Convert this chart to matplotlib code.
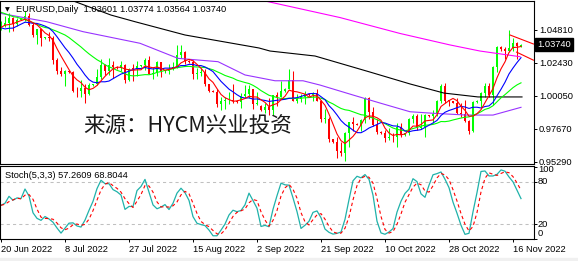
import numpy as np
import pandas as pd
import matplotlib
matplotlib.use("Agg")
import matplotlib.pyplot as plt
from matplotlib import transforms
from matplotlib.patches import Rectangle

# daily bars incl. short Sunday sessions, 20 Jun 2022 .. 18 Nov 2022
opens = [1.0495, 1.0512, 1.0534, 1.0566, 1.0522, 1.0554, 1.0562, 1.0583, 1.0518, 1.0441,
         1.0484, 1.0425, 1.0428, 1.0425, 1.0265, 1.0183, 1.0161, 1.0184, 1.0175, 1.0040,
         1.0036, 1.0061, 1.0019, 1.0085, 1.0088, 1.0141, 1.0230, 1.0180, 1.0229, 1.0212,
         1.0205, 1.0224, 1.0120, 1.0200, 1.0196, 1.0220, 1.0225, 1.0260, 1.0163, 1.0167,
         1.0248, 1.0181, 1.0185, 1.0196, 1.0212, 1.0298, 1.0320, 1.0258, 1.0250, 1.0160,
         1.0170, 1.0178, 1.0088, 1.0038, 1.0033, 0.9944, 0.9967, 0.9971, 0.9974, 0.9966,
         0.9960, 1.0005, 1.0018, 1.0055, 0.9944, 0.9932, 0.9905, 0.9925, 0.9903, 1.0009,
         0.9998, 1.0041, 1.0055, 1.0121, 0.9969, 0.9979, 0.9999, 1.0015, 1.0010, 1.0026,
         0.9970, 0.9835, 0.9838, 0.9690, 0.9670, 0.9608, 0.9594, 0.9735, 0.9815, 0.9801,
         0.9795, 0.9827, 0.9985, 0.9884, 0.9792, 0.9740, 0.9735, 0.9702, 0.9706, 0.9703,
         0.9780, 0.9720, 0.9732, 0.9838, 0.9859, 0.9774, 0.9780, 0.9862, 0.9858, 0.9875,
         0.9964, 1.0077, 0.9966, 0.9965, 0.9955, 0.9881, 0.9876, 0.9819, 0.9751, 0.9960,
         0.9968, 1.0021, 1.0072, 1.0012, 1.0210, 1.0356, 1.0345, 1.0326, 1.0353, 1.0389,
         1.03601]
highs = [1.0545, 1.0582, 1.0606, 1.0577, 1.0570, 1.0568, 1.0614, 1.0606, 1.0532, 1.0488,
         1.0486, 1.0432, 1.0463, 1.0437, 1.0277, 1.0215, 1.0189, 1.0190, 1.0186, 1.0068,
         1.0122, 1.0089, 1.0099, 1.0092, 1.0200, 1.0269, 1.0232, 1.0278, 1.0257, 1.0218,
         1.0258, 1.0234, 1.0204, 1.0235, 1.0254, 1.0228, 1.0274, 1.0294, 1.0210, 1.0254,
         1.0250, 1.0188, 1.0237, 1.0248, 1.0368, 1.0368, 1.0330, 1.0262, 1.0265, 1.0202,
         1.0202, 1.0200, 1.0090, 1.0045, 1.0050, 0.9999, 0.9998, 1.0033, 1.0090, 0.9972,
         1.0027, 1.0080, 1.0079, 1.0055, 1.0034, 0.9940, 0.9950, 0.9990, 1.0012, 1.0030,
         1.0113, 1.0060, 1.0198, 1.0187, 1.0020, 1.0017, 1.0037, 1.0020, 1.0030, 1.0051,
         0.9976, 0.9907, 0.9852, 0.9695, 0.9709, 0.9671, 0.9745, 0.9817, 0.9854, 0.9810,
         0.9840, 0.9999, 0.9998, 0.9921, 0.9833, 0.9748, 0.9760, 0.9772, 0.9733, 0.9807,
         0.9809, 0.9738, 0.9845, 0.9875, 0.9873, 0.9875, 0.9873, 0.9868, 0.9900, 0.9977,
         1.0093, 1.0094, 0.9977, 0.9968, 0.9985, 0.9954, 0.9976, 0.9830, 0.9965, 0.9975,
         1.0033, 1.0097, 1.0094, 1.0221, 1.0365, 1.0362, 1.0360, 1.0481, 1.0421, 1.0393,
         1.03774]
lows = [1.0483, 1.0500, 1.0469, 1.0470, 1.0510, 1.0550, 1.0548, 1.0511, 1.0433, 1.0382,
        1.0366, 1.0418, 1.0403, 1.0235, 1.0162, 1.0144, 1.0072, 1.0170, 1.0035, 0.9999,
        0.9998, 0.9952, 1.0011, 1.0078, 1.0081, 1.0125, 1.0154, 1.0153, 1.0130, 1.0200,
        1.0183, 1.0096, 1.0110, 1.0113, 1.0146, 1.0212, 1.0190, 1.0160, 1.0123, 1.0147,
        1.0141, 1.0172, 1.0160, 1.0188, 1.0202, 1.0275, 1.0232, 1.0245, 1.0126, 1.0123,
        1.0150, 1.0073, 1.0033, 1.0030, 0.9926, 0.9900, 0.9910, 0.9948, 0.9950, 0.9955,
        0.9914, 0.9990, 0.9986, 0.9910, 0.9939, 0.9895, 0.9877, 0.9865, 0.9864, 0.9930,
        0.9993, 1.0035, 1.0050, 0.9966, 0.9955, 0.9956, 0.9945, 1.0005, 0.9966, 0.9965,
        0.9813, 0.9807, 0.9668, 0.9660, 0.9553, 0.9572, 0.9535, 0.9636, 0.9749, 0.9790,
        0.9750, 0.9806, 0.9836, 0.9787, 0.9730, 0.9725, 0.9670, 0.9686, 0.9667, 0.9632,
        0.9707, 0.9715, 0.9720, 0.9806, 0.9756, 0.9763, 0.9705, 0.9850, 0.9807, 0.9856,
        0.9955, 0.9955, 0.9934, 0.9950, 0.9872, 0.9853, 0.9814, 0.9730, 0.9746, 0.9950,
        0.9925, 0.9996, 0.9993, 0.9935, 1.0175, 1.0330, 1.0271, 1.0318, 1.0330, 1.0272,
        1.03564]
closes = [1.0512, 1.0534, 1.0566, 1.0522, 1.0554, 1.0562, 1.0583, 1.0518, 1.0441, 1.0484,
          1.0425, 1.0428, 1.0425, 1.0265, 1.0183, 1.0161, 1.0184, 1.0175, 1.0040, 1.0036,
          1.0061, 1.0019, 1.0085, 1.0088, 1.0141, 1.0230, 1.0180, 1.0229, 1.0212, 1.0205,
          1.0224, 1.0120, 1.0200, 1.0196, 1.0220, 1.0225, 1.0260, 1.0163, 1.0167, 1.0248,
          1.0181, 1.0185, 1.0196, 1.0212, 1.0298, 1.0320, 1.0258, 1.0250, 1.0160, 1.0170,
          1.0178, 1.0088, 1.0038, 1.0033, 0.9944, 0.9967, 0.9971, 0.9974, 0.9966, 0.9960,
          1.0005, 1.0018, 1.0055, 0.9944, 0.9955, 0.9905, 0.9925, 0.9903, 1.0009, 0.9998,
          1.0041, 1.0055, 1.0121, 0.9969, 0.9979, 0.9999, 1.0015, 1.0010, 1.0026, 0.9970,
          0.9835, 0.9838, 0.9690, 0.9670, 0.9608, 0.9594, 0.9735, 0.9815, 0.9801, 0.9795,
          0.9827, 0.9985, 0.9884, 0.9792, 0.9740, 0.9735, 0.9702, 0.9706, 0.9703, 0.9780,
          0.9720, 0.9732, 0.9838, 0.9859, 0.9774, 0.9780, 0.9862, 0.9858, 0.9875, 0.9964,
          1.0077, 0.9966, 0.9965, 0.9955, 0.9881, 0.9876, 0.9819, 0.9751, 0.9960, 0.9968,
          1.0021, 1.0072, 1.0012, 1.0210, 1.0356, 1.0345, 1.0326, 1.0353, 1.0389, 1.0362,
          1.03740]
# closes of the bars before the visible window (for the short averages)
lead_closes = [1.0735, 1.0780, 1.0734, 1.0648, 1.0750, 1.0719, 1.0722, 1.0694, 1.0706, 1.0716,
               1.0617, 1.0518, 1.0510, 1.0410, 1.0415, 1.0447, 1.0546, 1.0495, 1.0490]

# long averages (bar index, price)
ma50_x = [-0.25, 11.4, 20.5, 34.75, 44.25, 54.25, 61, 68.5, 75.5, 79.75, 88, 94.75, 102.25, 108, 116.5, 123, 130]
ma50_y = [1.0601, 1.0540, 1.0468, 1.0384, 1.0275, 1.0251, 1.0155, 1.0113, 1.0113, 1.0082, 1.0010, 0.9952,
          0.9889, 0.9878, 0.9865, 0.9865, 0.9921]
ma100_x = [14.75, 18.25, 27.5, 33.5, 46, 64.5, 67.25, 78.5, 92.25, 102.25, 110.75, 119.25, 130.25]
ma100_y = [1.0726, 1.0688, 1.0588, 1.0540, 1.0444, 1.0350, 1.0328, 1.0292, 1.0176, 1.0090, 1.0024, 0.9996, 0.9996]
ma200_x = [63.5, 66.75, 84.75, 99.75, 112.25, 119.75, 129.75]
ma200_y = [1.0708, 1.0685, 1.0570, 1.0455, 1.0372, 1.0328, 1.0287]

# drawn trend lines at the right
trend_up_x = [127.25, 133.1]
trend_up_y = [1.0444, 1.0379]
trend_lo_x = [128.9, 133.1]
trend_lo_y = [1.0320, 1.0262]

date_ticks = [0, 16, 32, 48, 64, 80, 96, 112, 128]
date_labels = ['20 Jun 2022', '8 Jul 2022', '27 Jul 2022', '15 Aug 2022', '2 Sep 2022',
               '21 Sep 2022', '10 Oct 2022', '28 Oct 2022', '16 Nov 2022']
price_ticks = [0.95290, 0.97670, 1.00050, 1.02430, 1.04810]
stoch_levels = [0, 20, 80, 100]
stoch_label_shift = [5.5, 0, 0, -2.5]   # px, MT4 keeps 0 and 100 inside the panel
last_price = 1.03740

plt.rcParams['font.family'] = ['Liberation Sans', 'DejaVu Sans']
plt.rcParams['font.size'] = 6.7

df = pd.DataFrame({'open': opens, 'high': highs, 'low': lows, 'close': closes})
x = np.arange(len(df))

all_close = pd.Series(lead_closes + closes)
skip = len(lead_closes)
ma5 = all_close.rolling(5).mean().iloc[skip:].values
ma10 = all_close.rolling(10).mean().iloc[skip:].values
ma20 = all_close.rolling(20).mean().iloc[skip:].values

# Stochastic(5,3,3)
ll = df['low'].rolling(5, min_periods=1).min()
hh = df['high'].rolling(5, min_periods=1).max()
k = 100 * (df['close'] - ll).rolling(3, min_periods=1).sum() / (hh - ll).rolling(3, min_periods=1).sum()
d = k.rolling(3, min_periods=1).mean()

W, H = 578, 261
fig = plt.figure(figsize=(W / 100, H / 100), dpi=100)
fig.patch.set_facecolor('white')

ax1 = fig.add_axes([0, (H - 163.5) / H, 533.5 / W, 162.5 / H])
ax2 = fig.add_axes([0, (H - 239) / H, 533.5 / W, 73 / H])

# candles
up = df['close'] >= df['open']
cols = np.where(up, '#00ff00', '#ff0000')
ax1.vlines(x, df['low'], df['high'], colors=cols, linewidth=0.75)
body_lo = df[['open', 'close']].min(axis=1)
body_h = (df['close'] - df['open']).abs().clip(lower=0.0006)
ax1.bar(x, body_h, bottom=body_lo, width=0.72, color=cols, linewidth=0)

lw = 0.8
ax1.plot(ma200_x, ma200_y, color='#ff00ff', linewidth=lw)
ax1.plot(ma100_x, ma100_y, color='black', linewidth=lw)
ax1.plot(ma50_x, ma50_y, color='#9933ff', linewidth=lw)
ax1.plot(x, ma20, color='#00ff00', linewidth=lw)
ax1.plot(x, ma10, color='#0000ff', linewidth=lw)
ax1.plot(x, ma5, color='#ff0000', linewidth=lw)
ax1.plot(trend_up_x, trend_up_y, color='#ff0000', linewidth=lw)
ax1.plot(trend_lo_x, trend_lo_y, color='#ff0000', linewidth=lw)

ax1.set_xlim(-0.25, 133.125)
ax1.set_ylim(0.95148, 1.06897)
ax1.set_xticks([])
ax1.yaxis.tick_right()
ax1.set_yticks(price_ticks)
ax1.set_yticklabels(['%.5f' % p for p in price_ticks])
ax1.tick_params(axis='y', length=2, width=0.7, pad=2, labelsize=6.7)

ax1.text(1.0, last_price, '%.5f' % last_price, transform=transforms.blended_transform_factory(ax1.transAxes, ax1.transData)
         + transforms.ScaledTranslation(3.5 / 100, 0, fig.dpi_scale_trans),
         ha='left', va='center', color='white', fontsize=6.7,
         bbox=dict(boxstyle='square,pad=0.2', fc='black', ec='black'))

# stochastic panel
ax2.axhline(80, color='#c0c0c0', linewidth=0.75, dashes=(3, 3))
ax2.axhline(20, color='#c0c0c0', linewidth=0.75, dashes=(3, 3))
ax2.plot(x, k, color='#20b2aa', linewidth=0.9)
ax2.plot(x, d, color='#ff0000', linewidth=0.8, dashes=(3, 2.5))
ax2.set_xlim(-0.25, 133.125)
ax2.set_ylim(-0.7, 102.1)
ax2.yaxis.tick_right()
ax2.set_yticks(stoch_levels)
ax2.set_yticklabels([])
ax2.tick_params(axis='y', length=2, width=0.7)
lab_tr = transforms.blended_transform_factory(ax2.transAxes, ax2.transData)
for lev, sh in zip(stoch_levels, stoch_label_shift):
    ax2.text(1.0, lev, str(lev), fontsize=6.7, ha='left', va='center', clip_on=False,
             transform=lab_tr + transforms.ScaledTranslation(4.5 / 100, sh / 100, fig.dpi_scale_trans))
ax2.set_xticks(date_ticks)
ax2.set_xticklabels(date_labels, ha='left')
ax2.tick_params(axis='x', length=2.5, width=0.7, pad=2, labelsize=6.7)

for ax in (ax1, ax2):
    for s in ax.spines.values():
        s.set_linewidth(0.8)
        s.set_color('black')

# header texts
fig.text(7.5 / W, 1 - 10 / H, '\u25bc', family='DejaVu Sans', fontsize=4.5, ha='center', va='center')
fig.text(16 / W, 1 - 10 / H, 'EURUSD,Daily  1.03601 1.03774 1.03564 1.03740', fontsize=6.7, ha='left', va='center')
fig.text(5 / W, 1 - 175.7 / H, 'Stoch(5,3,3) 57.2609 68.8044', fontsize=6.7, ha='left', va='center')

# watermark
fig.text(83 / W, 1 - 127 / H, '来源：HYCM兴业投资', family=['Noto Sans CJK SC', 'DejaVu Sans'],
         fontsize=15.5, color='#1a1a1a', ha='left', va='center')

fig.patches.append(Rectangle((0, 0), 1, 3.5 / H, transform=fig.transFigure, color='#f0f0f0', zorder=0))

fig.savefig('out.png', dpi=100)
